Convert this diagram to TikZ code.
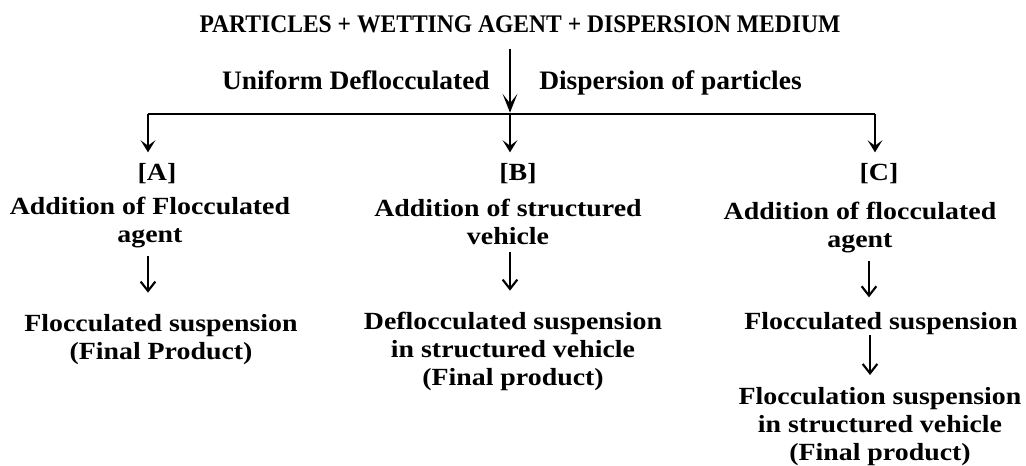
\documentclass[tikz,border=0pt]{standalone}
\usepackage{fontspec}
\setmainfont{Liberation Serif}
\newfontfamily\headfont[FakeStretch=0.93]{Liberation Serif}
\newfontfamily\midfont[FakeStretch=1.03]{Liberation Serif}
\newfontfamily\bodyfont[FakeStretch=1.13]{Liberation Serif}
\usetikzlibrary{arrows.meta}

\begin{document}
\begin{tikzpicture}[x=0.75pt,y=-0.75pt,
	head/.style={font=\headfont\bfseries\fontsize{19}{22}\selectfont, inner sep=0pt},
	mid/.style={font=\midfont\bfseries\fontsize{20}{23}\selectfont, inner sep=0pt},
	body/.style={font=\bodyfont\bfseries\fontsize{18.5}{21}\selectfont, inner sep=0pt, anchor=north, align=center},
	trunk/.style={line width=1.6pt, -{Stealth[length=14pt,width=11pt,inset=7pt]}},
	branch/.style={line width=1.6pt, -{Stealth[length=9pt,width=11pt,inset=4pt]}},
	flow/.style={line width=1.3pt, -{Straight Barb[length=7pt,width=11pt,line width=1.6pt]}}]
	\useasboundingbox (0,0) rectangle (1026,465);
	% top of the scheme
	\node (title) at (520,32)	[head, anchor=base]	{PARTICLES + WETTING AGENT + DISPERSION MEDIUM};
	\node (uni)	at (490,89)	[mid, anchor=base east]	{Uniform Deflocculated};
	\node (disp)	at (539,89)	[mid, anchor=base west]	{Dispersion of particles};
	\coordinate (jA) at (148,114);
	\coordinate (jB) at (510,114);
	\coordinate (jC) at (875,114);
	% three routes
	\node (tagA) at (157,163)	[body]	{[A]};
	\node (tagB) at (518,163)	[body]	{[B]};
	\node (tagC) at (879,163)	[body]	{[C]};
	\node (addA) at (150,197)	[body]	{Addition of Flocculated\\agent};
	\node (addB) at (508,199)	[body]	{Addition of structured\\vehicle};
	\node (addC) at (860,202)	[body]	{Addition of flocculated\\agent};
	\node (finA) at (161,314)	[body]	{Flocculated suspension\\(Final Product)};
	\node (finB) at (513,312)	[body]	{Deflocculated suspension\\in structured vehicle\\(Final product)};
	\node (susC) at (881,312)	[body]	{Flocculated suspension};
	\node (finC) at (880,387)	[body]	{Flocculation suspension\\in structured vehicle\\(Final product)};
	% connectors
	\draw[trunk, shorten <=12pt, shorten >=1pt] (title.south -| jB) -- (jB);
	\draw[line width=1.6pt] (jA) -- (jC);
	\draw[branch, shorten >=8pt] (jA) -- (tagA.north -| jA);
	\draw[branch, shorten >=8pt] (jB) -- (tagB.north -| jB);
	\draw[branch, shorten >=8pt] (jC) -- (tagC.north -| jC);
	\draw[flow, shorten <=6pt, shorten >=16pt] (addA.south -| jA) -- (finA.north -| jA);
	\draw[flow, shorten <=5pt, shorten >=16pt] (addB.south -| jB) -- (finB.north -| jB);
	\draw[flow, shorten <=6pt, shorten >=11pt] (addC.south -| 869,0) -- (susC.north -| 869,0);
	\draw[flow, shorten <=0pt, shorten >=9pt] (susC.south -| 870,0) -- (finC.north -| 870,0);
\end{tikzpicture}
\end{document}
